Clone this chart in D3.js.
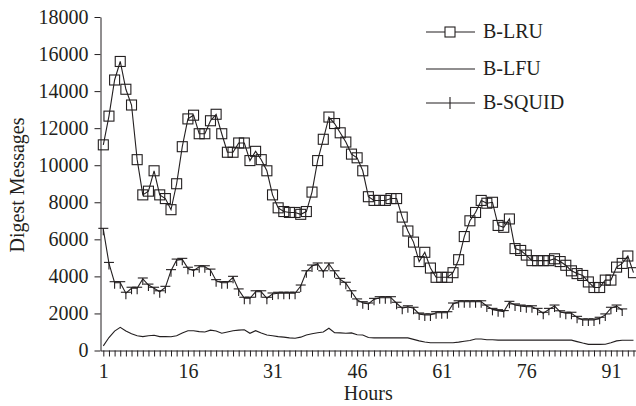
<!DOCTYPE html>
<html>
<head>
<meta charset="utf-8">
<script src="https://cdn.jsdelivr.net/npm/d3@7"></script>
<style>
  body { margin: 0; background: #fff; }
  svg text { font-family: "Liberation Serif", "Times New Roman", serif !important; fill: #231f20; }
</style>
</head>
<body>
<div id="chart"></div>
<script>
// hours on the x axis, one value per hour
var hours = d3.range(1, 96);
var xTickLabels = [1, 16, 31, 46, 61, 76, 91];
var yTicks = [0, 2000, 4000, 6000, 8000, 10000, 12000, 14000, 16000, 18000];
var seriesNames = ["B-LRU", "B-LFU", "B-SQUID"];

var lru = [11100,12650,14600,15600,14100,13250,10300,8400,8600,9700,
	8400,8200,7600,9000,11000,12500,12700,11700,11700,12400,
	12750,11700,10700,10700,11200,11200,10250,10750,10300,9700,
	8400,7700,7500,7450,7450,7350,7500,8550,10250,11400,
	12600,12250,11750,11250,10600,10400,9700,8300,8100,8100,
	8100,8200,8200,7200,6450,5850,4800,5300,4450,3950,
	3950,3950,4200,4900,6150,7000,7450,8100,7950,8000,
	6750,6650,7100,5500,5400,5150,4850,4850,4850,4850,
	4950,4800,4600,4300,4150,4050,3700,3400,3400,3800,
	3800,4500,4700,5100,4200];

var lfu = [250,700,1050,1250,1050,900,800,750,800,820,
	750,750,740,800,950,1070,1070,1020,1000,1100,
	1050,930,1000,1070,1100,1120,930,1070,950,840,
	800,750,720,680,660,720,840,900,960,1000,
	1200,960,950,930,950,850,840,700,680,680,
	680,680,680,680,680,600,520,460,420,420,
	420,420,420,450,500,540,620,620,580,580,
	560,560,560,560,560,560,560,560,560,560,
	560,560,560,560,480,400,330,330,330,340,
	420,520,550,550,550];

var squid = [6540,4700,3660,3660,3090,3360,3360,3860,3530,3360,
	3170,3410,4310,4880,4920,4440,4310,4520,4520,4340,
	3770,3660,3660,3950,3270,2820,2820,3170,3170,2820,
	3050,3090,3090,3090,3090,3480,4250,4560,4670,4250,
	4670,4250,3840,3630,3170,2730,2580,2510,2760,2850,
	2850,2850,2550,2280,2360,2280,1970,1920,1920,2040,
	2040,2040,2510,2630,2630,2630,2630,2630,2400,2220,
	2150,2100,2600,2460,2400,2360,2360,2220,2010,2220,
	2400,2090,2010,2010,1790,1650,1650,1650,1740,1920,
	2280,2400,2190];

var iWidth = 636, iHeight = 406;
var sInk = "#231f20";
var sFont = "'Liberation Serif', 'Times New Roman', serif";

var svg = d3.select("#chart").append("svg")
	.attr("width", iWidth)
	.attr("height", iHeight)
	.attr("font-family", sFont);

var xScale = d3.scaleLinear().domain([0.5, 95.5]).range([100.5, 636.3]);
var yScale = d3.scaleLinear().domain([0, 18000]).range([350.5, 17]);

// axes
var yAxis = svg.append("g")
	.attr("transform", "translate(" + xScale(0.5) + ",0)")
	.call(d3.axisLeft(yScale).tickValues(yTicks).tickSize(6).tickSizeOuter(0).tickPadding(6).tickFormat(d3.format("d")));

var xAxis = svg.append("g")
	.attr("transform", "translate(0," + yScale(0) + ")")
	.call(d3.axisBottom(xScale).tickValues(hours).tickSize(6).tickSizeOuter(0).tickPadding(7)
		.tickFormat(function(d) { return xTickLabels.indexOf(d) >= 0 ? d : ""; }));

[xAxis, yAxis].forEach(function(a) {
	a.attr("font-family", sFont).attr("font-size", 20);
	a.selectAll("path,line").attr("stroke", sInk).attr("stroke-width", 1);
	a.selectAll("text").style("font-size", "20px").style("font-family", sFont).attr("fill", sInk);
});

svg.append("text")
	.attr("x", (xScale(0.5) + 636) / 2)
	.attr("y", 400)
	.attr("text-anchor", "middle")
	.style("font-size", "20px")
	.style("font-family", sFont)
	.text("Hours");

svg.append("text")
	.attr("transform", "translate(24,185) rotate(-90)")
	.attr("text-anchor", "middle")
	.style("font-size", "20px")
	.style("font-family", sFont)
	.text("Digest Messages");

// lines
var lineGen = d3.line()
	.x(function(d, i) { return xScale(hours[i]); })
	.y(function(d) { return yScale(d); });

[lru, lfu, squid].forEach(function(arr) {
	svg.append("path")
		.datum(arr)
		.attr("d", lineGen)
		.attr("fill", "none")
		.attr("stroke", sInk)
		.attr("stroke-width", 1.1);
});

// square markers for B-LRU
svg.selectAll(".sq")
	.data(lru)
	.enter().append("rect")
		.attr("x", function(d, i) { return xScale(hours[i]) - 5; })
		.attr("y", function(d) { return yScale(d) - 5; })
		.attr("width", 10)
		.attr("height", 10)
		.attr("fill", "none")
		.attr("stroke", sInk)
		.attr("stroke-width", 1.1);

// plus markers for B-SQUID
var plus = svg.selectAll(".pl")
	.data(squid)
	.enter().append("g")
		.attr("transform", function(d, i) { return "translate(" + xScale(hours[i]) + "," + yScale(d) + ")"; });
plus.append("line").attr("x1", -5).attr("x2", 5).attr("y1", -1).attr("y2", -1);
plus.append("line").attr("x1", 0).attr("x2", 0).attr("y1", -1).attr("y2", 6);
plus.selectAll("line").attr("stroke", sInk).attr("stroke-width", 1.1);

// legend
var legendY = [32, 69, 103];
var legend = svg.selectAll(".lg")
	.data(seriesNames)
	.enter().append("g")
		.attr("transform", function(d, i) { return "translate(0," + legendY[i] + ")"; });

legend.append("line")
	.attr("x1", 426).attr("x2", 475).attr("y1", 0).attr("y2", 0)
	.attr("stroke", sInk).attr("stroke-width", 1.1);

legend.append("text")
	.attr("x", 483)
	.attr("y", 6)
	.style("font-size", "20px")
	.style("font-family", sFont)
	.text(function(d) { return d; });

legend.filter(function(d, i) { return i == 0; }).append("rect")
	.attr("x", 445).attr("y", -5).attr("width", 10).attr("height", 10)
	.attr("fill", "#fff").attr("stroke", sInk).attr("stroke-width", 1.1);

legend.filter(function(d, i) { return i == 2; }).append("line")
	.attr("x1", 450).attr("x2", 450).attr("y1", -6).attr("y2", 6)
	.attr("stroke", sInk).attr("stroke-width", 1.1);
</script>
</body>
</html>
